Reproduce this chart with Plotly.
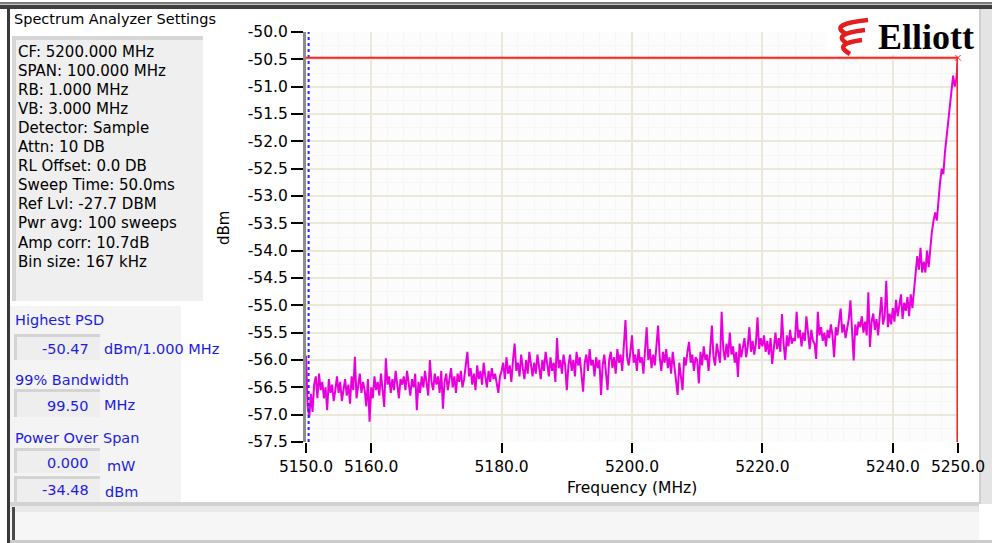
import plotly.graph_objects as go

# ---------------- data ----------------
freq_start = 5150.0      # MHz
freq_step = 0.25         # MHz per plotted bin
psd_dbm = [
    -55.92, -56.85, -57.05, -56.62, -56.95, -56.45, -56.30, -56.70, -56.25, -56.55, -56.40, -56.70, -56.50, -56.92, -56.35, -56.60, -56.45, -56.75, -56.55, -56.30,
    -56.60, -56.40, -56.75, -56.50, -56.35, -56.65, -56.45, -56.80, -56.30, -56.55, -55.94, -56.70, -56.45, -56.25, -56.60, -56.40, -56.55, -56.85, -56.35, -57.13,
    -56.50, -56.70, -56.30, -56.55, -56.40, -56.65, -56.25, -56.50, -56.86, -55.97, -56.45, -56.30, -56.60, -56.35, -56.55, -56.20, -56.50, -56.70, -56.35, -56.45,
    -56.30, -56.55, -56.20, -56.45, -56.65, -56.35, -56.50, -56.25, -56.92, -56.40, -56.60, -56.30, -56.50, -56.20, -56.45, -56.65, -56.00, -56.40, -56.55, -56.25,
    -56.45, -56.30, -56.60, -56.20, -56.89, -56.40, -56.25, -56.55, -56.35, -56.15, -56.50, -56.30, -56.60, -56.25, -56.40, -56.20, -56.50, -56.35, -56.10, -55.85,
    -56.30, -56.15, -56.45, -56.25, -56.55, -56.10, -56.35, -56.20, -56.45, -56.05, -56.30, -56.50, -56.20, -56.40, -56.15, -56.35, -56.25, -56.45, -56.60, -56.30,
    -56.20, -56.05, -56.35, -55.95, -56.25, -56.10, -56.40, -56.00, -55.70, -56.20, -56.05, -56.30, -55.90, -56.15, -56.35, -56.00, -56.25, -55.85, -56.10, -56.30,
    -56.05, -56.25, -55.90, -56.15, -56.35, -56.00, -56.20, -55.85, -56.10, -56.30, -55.95, -56.20, -56.05, -56.40, -55.60, -56.15, -56.00, -56.25, -55.90, -56.10,
    -56.55, -56.10, -55.90, -56.20, -56.00, -56.30, -55.85, -56.10, -55.95, -56.25, -56.58, -56.05, -55.90, -56.20, -55.80, -56.10, -56.00, -56.30, -55.95, -56.15,
    -56.00, -56.64, -56.10, -55.90, -56.20, -56.55, -56.00, -55.85, -56.15, -55.95, -56.25, -55.80, -56.05, -55.90, -56.20, -55.75, -55.27, -55.95, -56.10, -55.85,
    -55.55, -56.05, -55.90, -56.20, -55.80, -56.05, -55.95, -56.25, -55.85, -55.40, -56.00, -55.80, -56.15, -55.90, -56.10, -55.75, -55.37, -55.95, -56.20, -55.85,
    -56.05, -55.80, -56.15, -55.95, -56.25, -55.85, -56.10, -56.35, -56.64, -56.05, -56.30, -56.55, -55.95, -56.10, -55.85, -55.67, -56.05, -55.90, -56.20, -55.95,
    -56.00, -56.43, -55.85, -56.10, -55.75, -56.00, -55.90, -56.20, -55.80, -55.37, -55.95, -56.10, -55.70, -55.90, -56.05, -55.12, -55.80, -56.00, -55.70, -55.95,
    -55.50, -55.90, -55.75, -56.05, -55.85, -56.31, -55.70, -55.95, -55.80, -55.60, -55.95, -55.75, -55.40, -55.85, -55.65, -55.90, -55.70, -55.22, -55.80, -55.60,
    -55.75, -55.55, -55.85, -55.65, -55.90, -55.60, -56.07, -55.70, -55.50, -55.80, -55.60, -55.85, -55.16, -55.70, -56.00, -55.55, -55.75, -55.45, -55.70, -55.60,
    -55.65, -55.12, -55.60, -55.45, -55.75, -55.50, -55.65, -55.20, -55.55, -55.80, -55.45, -55.65, -55.70, -55.98, -55.12, -55.55, -55.40, -55.65, -55.50, -55.75,
    -55.45, -55.60, -55.35, -55.55, -55.95, -55.40, -55.55, -55.30, -55.06, -55.50, -55.35, -55.60, -55.40, -55.25, -54.91, -55.50, -56.01, -55.35, -55.55, -55.30,
    -55.40, -55.20, -55.50, -55.30, -55.55, -54.76, -55.76, -55.30, -55.15, -55.45, -55.25, -55.55, -55.10, -54.85, -55.35, -55.20, -54.55, -55.40, -55.15, -55.35,
    -55.05, -55.30, -54.90, -55.20, -55.00, -54.80, -55.25, -54.95, -55.10, -54.85, -55.20, -54.80, -55.05, -54.75, -54.45, -54.10, -54.35, -53.95, -54.40, -54.20,
    -54.40, -54.00, -54.30, -53.95, -53.65, -53.45, -53.30, -53.45, -53.00, -52.75, -52.50, -52.60, -52.20, -51.90, -51.70, -51.35, -51.10, -50.80, -51.00, -50.85,
    -50.47,
]
freq_mhz = [freq_start + i * freq_step for i in range(len(psd_dbm))]

freq_min, freq_max = 5150.0, 5250.0
dbm_min, dbm_max = -57.5, -50.0
highest_psd = -50.47          # dBm / 1 MHz
peak_freq = 5249.95
obw_low = 5150.4              # 99 % bandwidth lower edge

x_tick_vals = [5150, 5160, 5180, 5200, 5220, 5240, 5250]
x_tick_text = ["5150.0", "5160.0", "5180.0", "5200.0", "5220.0", "5240.0", "5250.0"]
y_tick_vals = [-57.5, -57.0, -56.5, -56.0, -55.5, -55.0, -54.5, -54.0, -53.5,
               -53.0, -52.5, -52.0, -51.5, -51.0, -50.5, -50.0]
y_tick_text = ["%.1f" % v for v in y_tick_vals]

settings_lines = [
    "CF: 5200.000 MHz", "SPAN: 100.000 MHz", "RB: 1.000 MHz", "VB: 3.000 MHz",
    "Detector: Sample", "Attn: 10 DB", "RL Offset: 0.0 DB", "Sweep Time: 50.0ms",
    "Ref Lvl: -27.7 DBM", "Pwr avg: 100 sweeps", "Amp corr: 10.7dB", "Bin size: 167 kHz",
]
result_labels = ["Highest PSD", "99% Bandwidth", "Power Over Span"]
result_values = ["-50.47", "99.50", "0.000", "-34.48"]
result_units = ["dBm/1.000 MHz", "MHz", "mW", "dBm"]

# ---------------- layout helpers (pixel -> paper) ----------------
W, H = 992, 543
L, R, T, B = 306, 34, 32, 101
X0, X1 = L, W - R
Y0, Y1 = T, H - B


def PX(x):
    return (x - X0) / (X1 - X0)


def PY(y):
    return (Y1 - y) / (Y1 - Y0)


FONT = "DejaVu Sans"
BLUE = "#1c1ce0"

shapes = []


def rect(x0, y0, x1, y1, fill, layer="below", line=None):
    shapes.append(dict(type="rect", xref="paper", yref="paper",
                       x0=PX(x0), x1=PX(x1), y0=PY(y1), y1=PY(y0),
                       fillcolor=fill, layer=layer,
                       line=dict(width=0) if line is None else line))


# frame
rect(0, 2, W, 4, "#7a7a7a")
rect(0, 4, W, 5, "#c8c8c8")
rect(0, 5, W, 9, "#3e3e3e")
rect(7, 9, 10, H, "#3a3a3a")
rect(979, 9, W, 504, "#e4e4e4")
rect(979, 9, 981, 504, "#cfcfcf")
# settings panel
rect(12, 36, 203, 301, "#efefef")
rect(12, 36, 203, 40, "#d6d6d6")
rect(12, 36, 16, 301, "#d6d6d6")
# lower-left results panel
rect(10, 306, 181, 502, "#f4f4f4")
for (y0, y1) in [(334, 360), (389, 417), (448, 473), (476, 502)]:
    rect(14, y0, 100, y1, "#eeeeee")
    rect(14, y0, 100, y0 + 3, "#d4d4d4")
    rect(14, y0, 17, y1, "#d4d4d4")
# bottom separator and status bar
rect(10, 502, 979, 506, "#d2d2d2")
rect(10, 506, 979, 512, "#e9e9e9")
rect(10, 512, 979, 540, "#f6f6f6")
rect(12, 507, 15, 540, "#4a4a4a")
rect(10, 540, W, H, "#cccccc")

# logo background and swoosh
rect(826, 11, 978, 55, "#ffffff", layer="above")
for k in range(3):
    dy = 10 * k
    path = "M %f,%f Q %f,%f %f,%f" % (
        PX(868 - 3 * k), PY(20 + dy), PX(828 + 2 * k), PY(24 + dy), PX(846 + 2 * k), PY(34 + dy))
    shapes.append(dict(type="path", xref="paper", yref="paper", path=path,
                       line=dict(color="#e41d1d", width=4.5), layer="above"))

annotations = []


def text(x, y, s, size=15, color="#000000", anchor="left", family=FONT, angle=0):
    annotations.append(dict(xref="paper", yref="paper", x=PX(x), y=PY(y), text=s,
                            showarrow=False, xanchor=anchor, yanchor="middle",
                            textangle=angle,
                            font=dict(family=family, size=size, color=color)))


text(12, 19, "Spectrum Analyzer Settings", size=14.5)
for i, s in enumerate(settings_lines):
    text(16, 51.5 + 19.1 * i, s, size=15)

text(13, 320, result_labels[0], size=14.5, color=BLUE)
text(13, 380, result_labels[1], size=14.5, color=BLUE)
text(13, 438, result_labels[2], size=14.5, color=BLUE)
for s, y in zip(result_values, [349, 406, 463, 490]):
    text(91, y, s, size=14.5, color=BLUE, anchor="right")
for s, (x, y) in zip(result_units, [(102, 349), (102, 405), (105, 466), (103, 492)]):
    text(x, y, s, size=14.5, color=BLUE)

text(224, 228, "dBm", size=15, angle=-90, anchor="center")
text(632, 488, "Frequency (MHz)", size=15.5, anchor="center")
text(926, 37, "<b>Elliott</b>", size=36, family="Liberation Serif", anchor="center")

# ---------------- traces ----------------
fig = go.Figure()
fig.add_trace(go.Scatter(x=freq_mhz, y=psd_dbm, mode="lines",
                         line=dict(color="#e800dc", width=2), hoverinfo="skip"))
fig.add_trace(go.Scatter(x=[obw_low, obw_low], y=[dbm_min, dbm_max], mode="lines",
                         line=dict(color="#2626ff", width=2, dash="dot"), cliponaxis=False))
fig.add_trace(go.Scatter(x=[freq_min, freq_max], y=[highest_psd, highest_psd], mode="lines",
                         line=dict(color="#ff2222", width=2), cliponaxis=False))
fig.add_trace(go.Scatter(x=[peak_freq, peak_freq], y=[dbm_min, highest_psd], mode="lines",
                         line=dict(color="#ff2222", width=2.5), cliponaxis=False))
fig.add_trace(go.Scatter(x=[freq_max], y=[highest_psd], mode="markers",
                         marker=dict(symbol="x-thin-open", size=6, color="#ff2a2a",
                                     line=dict(color="#ff2a2a", width=1)), cliponaxis=False))

fig.update_layout(
    width=W, height=H, autosize=False,
    margin=dict(l=L, r=R, t=T, b=B, pad=0, autoexpand=False),
    paper_bgcolor="#ffffff", plot_bgcolor="#fcfcfc",
    showlegend=False, hovermode=False,
    shapes=shapes, annotations=annotations,
    font=dict(family=FONT, size=15, color="#000000"),
)
fig.update_xaxes(range=[freq_min, freq_max], tickmode="array", tickvals=x_tick_vals,
                 ticktext=x_tick_text, ticks="outside", ticklen=10, tickwidth=2,
                 tickcolor="#000000", showline=False, zeroline=False, automargin=False,
                 showgrid=True, gridcolor="#ebe8d9", gridwidth=2,
                 tickfont=dict(family=FONT, size=15.5, color="#000000"),
                 minor=dict(tick0=5150, dtick=2.5, showgrid=True, gridcolor="#f6f6f4",
                            gridwidth=1, ticks=""))
fig.update_yaxes(range=[dbm_min, dbm_max], tickmode="array", tickvals=y_tick_vals,
                 ticktext=y_tick_text, ticks="outside", ticklen=12, tickwidth=2,
                 tickcolor="#000000", showline=True, linecolor="#8c8c8c", linewidth=3,
                 zeroline=False, automargin=False,
                 showgrid=True, gridcolor="#ebe8d9", gridwidth=2,
                 tickfont=dict(family=FONT, size=15.5, color="#000000"),
                 minor=dict(tick0=-57.5, dtick=0.25, showgrid=True, gridcolor="#f6f6f4",
                            gridwidth=1, ticks=""))

fig.write_html("out.html",
               config={"displayModeBar": False, "responsive": False, "staticPlot": True},
               post_script="document.body.style.margin='0px';"
                           "document.body.style.overflow='hidden';")
